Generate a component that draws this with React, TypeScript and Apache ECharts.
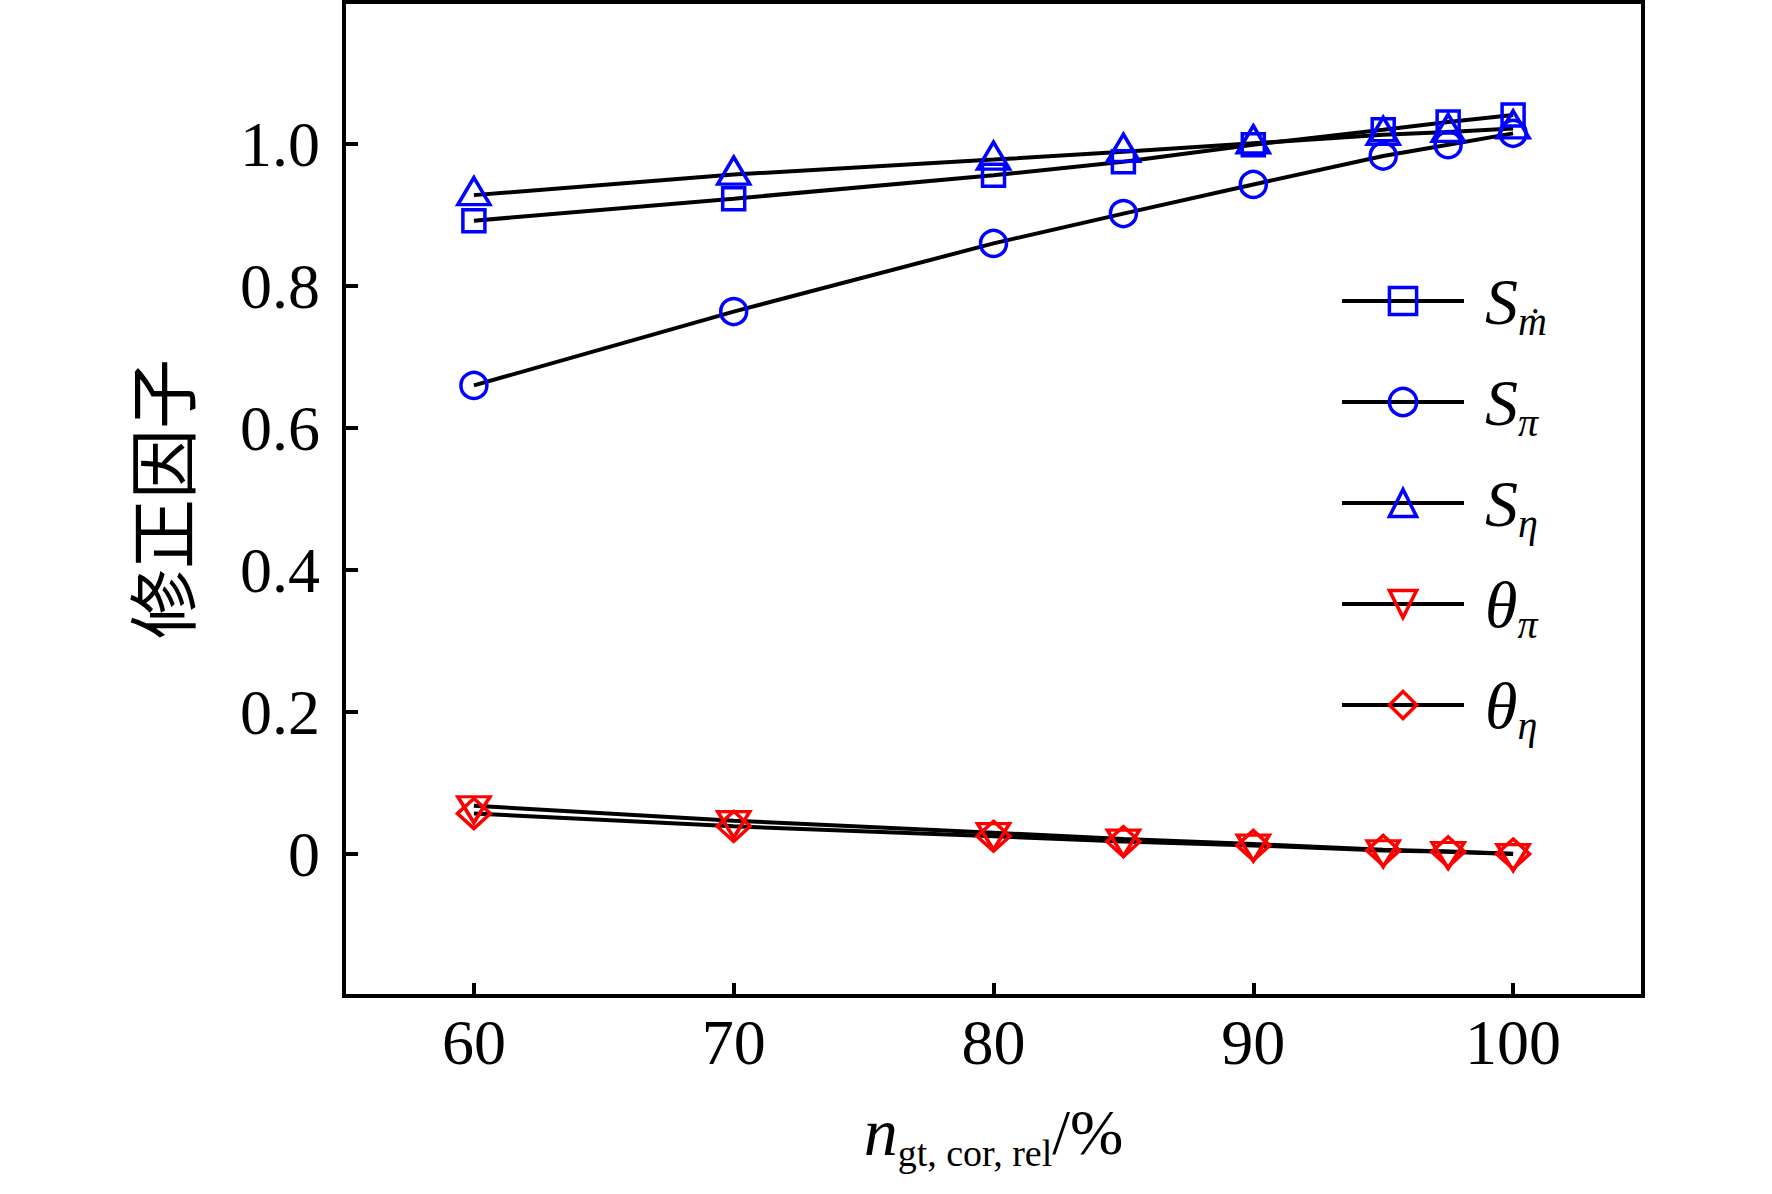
import React, { useEffect, useRef } from "react";
import * as echarts from "echarts";

// ---- data ----
const xValues = [60, 70, 80, 85, 90, 95, 97.5, 100];
const sMdot = [0.892, 0.923, 0.956, 0.975, 0.999, 1.02, 1.031, 1.041];
const sPi = [0.66, 0.764, 0.86, 0.902, 0.943, 0.983, 0.999, 1.015];
const sEta = [0.928, 0.957, 0.978, 0.989, 1.001, 1.013, 1.017, 1.022];
const thetaPi = [0.068, 0.047, 0.03, 0.021, 0.014, 0.006, 0.0035, 0.0005];
const thetaEta = [0.057, 0.039, 0.025, 0.0175, 0.012, 0.005, 0.003, 0];
const xTicks = [60, 70, 80, 90, 100];
const yTicks = [0, 0.2, 0.4, 0.6, 0.8, 1.0];
const seriesNames = ["S_mdot", "S_pi", "S_eta", "theta_pi", "theta_eta"];
const legendLabels: Record<string, string> = {
  S_mdot: "{S|S}{sub|\u1E41}",
  S_pi: "{S|S}{sub|\u03C0}",
  S_eta: "{S|S}{sub|\u03B7}",
  theta_pi: "{S|\u03B8}{sub|\u03C0}",
  theta_eta: "{S|\u03B8}{sub|\u03B7}",
};
const yAxisTitle = "修正因子";
const xAxisTitle = "{n|n}{sub|gt, cor, rel}{pct|/%}";

const SERIF = '"Liberation Serif", "Times New Roman", "DejaVu Serif", serif';
const CJK = '"Noto Sans CJK SC", sans-serif';
const BLUE = "#0000ff";
const RED = "#ff0000";

function makeSeries(
  name: string,
  ys: number[],
  symbol: string,
  size: number | number[],
  color: string,
  rotate = 0,
  offset: number[] = [0, 0]
) {
  return {
    name,
    type: "line",
    data: xValues.map((x, i) => [x, ys[i]]),
    symbol,
    symbolSize: size,
    symbolRotate: rotate,
    symbolOffset: offset,
    showAllSymbol: true,
    lineStyle: { color: "#000", width: 4 },
    itemStyle: { color: "rgba(255,255,255,0)", borderColor: color, borderWidth: 3.5 },
    emphasis: { disabled: true },
    silent: true,
  };
}

const option: any = {
  animation: false,
  backgroundColor: "#fff",
  grid: {
    left: 344,
    right: 129,
    top: 2,
    bottom: 198,
    show: true,
    borderColor: "#000",
    borderWidth: 4,
    backgroundColor: "transparent",
    outerBoundsMode: "none",
  },
  xAxis: {
    type: "value",
    min: 55,
    max: 105,
    name: xAxisTitle,
    nameLocation: "middle",
    nameGap: 96,
    nameTextStyle: {
      color: "#000",
      rich: {
        n: { fontFamily: SERIF, fontStyle: "italic", fontSize: 68, lineHeight: 80, color: "#000" },
        sub: { fontFamily: SERIF, fontSize: 38, lineHeight: 34, verticalAlign: "bottom", color: "#000" },
        pct: { fontFamily: SERIF, fontSize: 64, lineHeight: 80, color: "#000" },
      },
    },
    axisLine: { show: true, onZero: false, lineStyle: { color: "#000", width: 4 } },
    axisTick: {
      show: true,
      inside: true,
      length: 13,
      customValues: xTicks,
      lineStyle: { color: "#000", width: 4 },
    },
    axisLabel: {
      customValues: xTicks,
      margin: 14,
      fontFamily: SERIF,
      fontSize: 64,
      color: "#000",
    },
    splitLine: { show: false },
  },
  yAxis: {
    type: "value",
    min: -0.2,
    max: 1.2,
    name: yAxisTitle,
    nameLocation: "middle",
    nameGap: 150,
    nameTextStyle: { fontFamily: CJK, fontSize: 70, color: "#000" },
    axisLine: { show: true, onZero: false, lineStyle: { color: "#000", width: 4 } },
    axisTick: {
      show: true,
      inside: true,
      length: 14,
      customValues: yTicks,
      lineStyle: { color: "#000", width: 4 },
    },
    axisLabel: {
      customValues: yTicks,
      margin: 24,
      fontFamily: SERIF,
      fontSize: 64,
      color: "#000",
      formatter: (v: number) => (Math.abs(v) < 1e-9 ? "0" : v.toFixed(1)),
    },
    splitLine: { show: false },
  },
  legend: {
    show: true,
    orient: "vertical",
    left: 1340,
    top: 268,
    padding: 0,
    itemWidth: 122,
    itemHeight: 34,
    itemGap: 28,
    selectedMode: false,
    data: seriesNames,
    formatter: (n: string) => legendLabels[n],
    itemStyle: { borderWidth: 3.5 },
    lineStyle: { width: 4, color: "#000" },
    textStyle: {
      color: "#000",
      rich: {
        S: {
          fontFamily: SERIF,
          fontStyle: "italic",
          fontSize: 66,
          lineHeight: 80,
          color: "#000",
          padding: [0, 0, 0, 16],
        },
        sub: {
          fontFamily: SERIF,
          fontStyle: "italic",
          fontSize: 40,
          lineHeight: 40,
          verticalAlign: "bottom",
          color: "#000",
        },
      },
    },
  },
  series: [
    makeSeries(seriesNames[0], sMdot, "rect", 22, BLUE),
    makeSeries(seriesNames[1], sPi, "circle", 26, BLUE),
    makeSeries(seriesNames[2], sEta, "triangle", [32, 27], BLUE, 0, [0, -4]),
    makeSeries(seriesNames[3], thetaPi, "triangle", [32, 26], RED, 180, [0, 4]),
    makeSeries(seriesNames[4], thetaEta, "diamond", [33, 30], RED),
  ],
};

export default function App() {
  const ref = useRef<HTMLDivElement>(null);
  useEffect(() => {
    if (!ref.current) return;
    const chart = echarts.init(ref.current, undefined, { renderer: "svg" });
    chart.setOption(option);
    return () => chart.dispose();
  }, []);
  return (
    <div
      ref={ref}
      style={{ position: "absolute", left: 0, top: 0, width: 1772, height: 1194, background: "#fff" }}
    />
  );
}
